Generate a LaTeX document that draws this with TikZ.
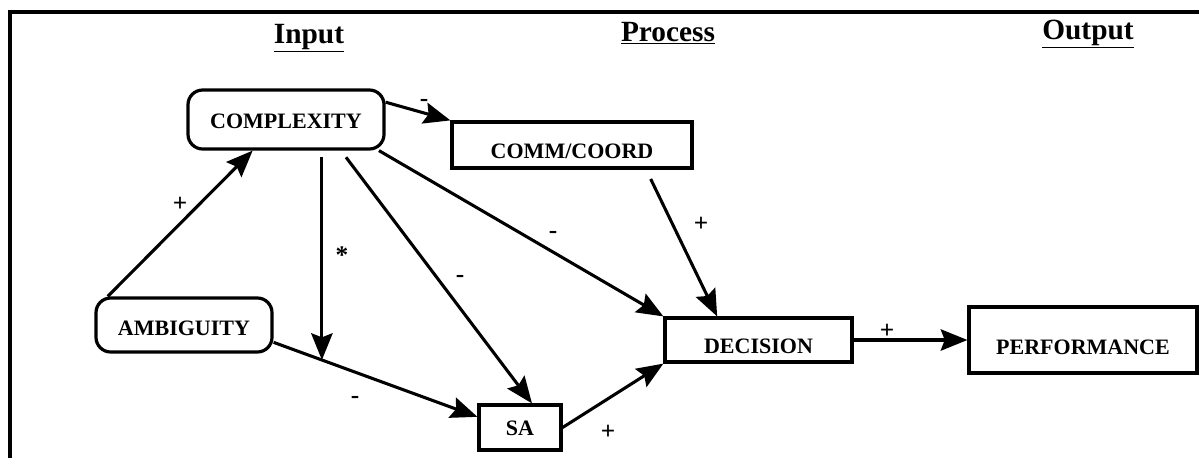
\documentclass[tikz,border=0pt]{standalone}
\usepackage{fontspec}
\setmainfont{Liberation Serif}
\usepackage{tikz}
\usetikzlibrary{arrows.meta, calc}
\newcommand{\xboxfont}{\fontsize{16.5}{19}\selectfont\bfseries}
\newcommand{\xsignfont}{\fontsize{19}{21}\selectfont\bfseries}
\newcommand{\xheadfont}{\fontsize{22}{24}\selectfont\bfseries}
\tikzset{
    xbox/.style={draw, line width=2.4pt, inner sep=0pt, font=\xboxfont, text depth=0pt},
    xround/.style={xbox, rounded corners=11pt},
    xlink/.style={line width=2.3pt, -{Stealth[length=20pt, width=16pt, inset=3pt]}},
    xsign/.style={font=\xsignfont, inner sep=0pt},
    xhead/.style={font=\xheadfont, anchor=base, inner sep=0pt}
}

\begin{document}
\begin{tikzpicture}[x=0.75pt, y=-0.75pt]

        \useasboundingbox (0,0) rectangle (1199,458);

        % ---------------- frame and headings ----------------
        \draw[line width=2.4pt] (10,458) -- (10,12) -- (1199,12);
        \node[xhead] (hIn)   at (309,43)  {\underline{Input}};
        \node[xhead] (hProc) at (668,41)  {\underline{Process}};
        \node[xhead] (hOut)  at (1088,39) {\underline{Output}};

        % ---------------- boxes ----------------
        \node[xround, minimum width=147pt, minimum height=44.25pt, text height=13.1pt]
            (cmplx) at (286,119.5) {COMPLEXITY};
        \node[xround, minimum width=132pt, minimum height=40.5pt, text height=15.4pt]
            (amb) at (184,325) {AMBIGUITY};
        \node[xbox, minimum width=180pt, minimum height=34.5pt, text height=19.9pt]
            (comm) at (572,145) {COMM/COORD};
        \node[xbox, minimum width=61.5pt, minimum height=33.75pt, text height=12.4pt]
            (sa) at (520,427.5) {SA};
        \node[xbox, minimum width=140.25pt, minimum height=33pt, text height=19.9pt]
            (dec) at (758.5,340) {DECISION};
        \node[xbox, minimum width=171pt, minimum height=49.5pt, text height=22.1pt]
            (perf) at (1083,340) {PERFORMANCE};

        % ---------------- links ----------------
        \draw[xlink] ([xshift=10pt]amb.north west) -- ([xshift=-25pt]cmplx.south);
        \draw[xlink] ([yshift=13pt]cmplx.east) -- (comm.north west);
        \draw[xlink] ([xshift=-5pt]cmplx.south east) -- (dec.north west);
        \draw[xlink] ([xshift=45pt,yshift=-5pt]cmplx.south) -- ([xshift=9pt]sa.north);
        \draw[xlink] ([yshift=-13pt]amb.east) -- coordinate[pos=0.237] (mod) ([yshift=8pt]sa.west);
        \coordinate (modTop) at ([yshift=-5pt]cmplx.south);
        \draw[xlink] (modTop -| mod) -- (mod);
        \draw[xlink] ([xshift=59pt,yshift=-7pt]comm.south) -- ([xshift=-31pt]dec.north);
        \draw[xlink] (sa.east) -- (dec.south west);
        \draw[xlink] (dec.east) -- (perf.west);

        % ---------------- signs ----------------
        \node[xsign] (sAmbCx)   at (180,204) {+};
        \node[xsign] (sCxComm)  at (424,103) {-};
        \node[xsign] (sMod)     at (342,255) {*};
        \node[xsign] (sCxSa)    at (460,279) {-};
        \node[xsign] (sCxDec)   at (553,235) {-};
        \node[xsign] (sCommDec) at (701,224) {+};
        \node[xsign] (sAmbSa)   at (355,400) {-};
        \node[xsign] (sSaDec)   at (608,432) {+};
        \node[xsign] (sDecPerf) at (887,331) {+};

    \end{tikzpicture}
\end{document}
